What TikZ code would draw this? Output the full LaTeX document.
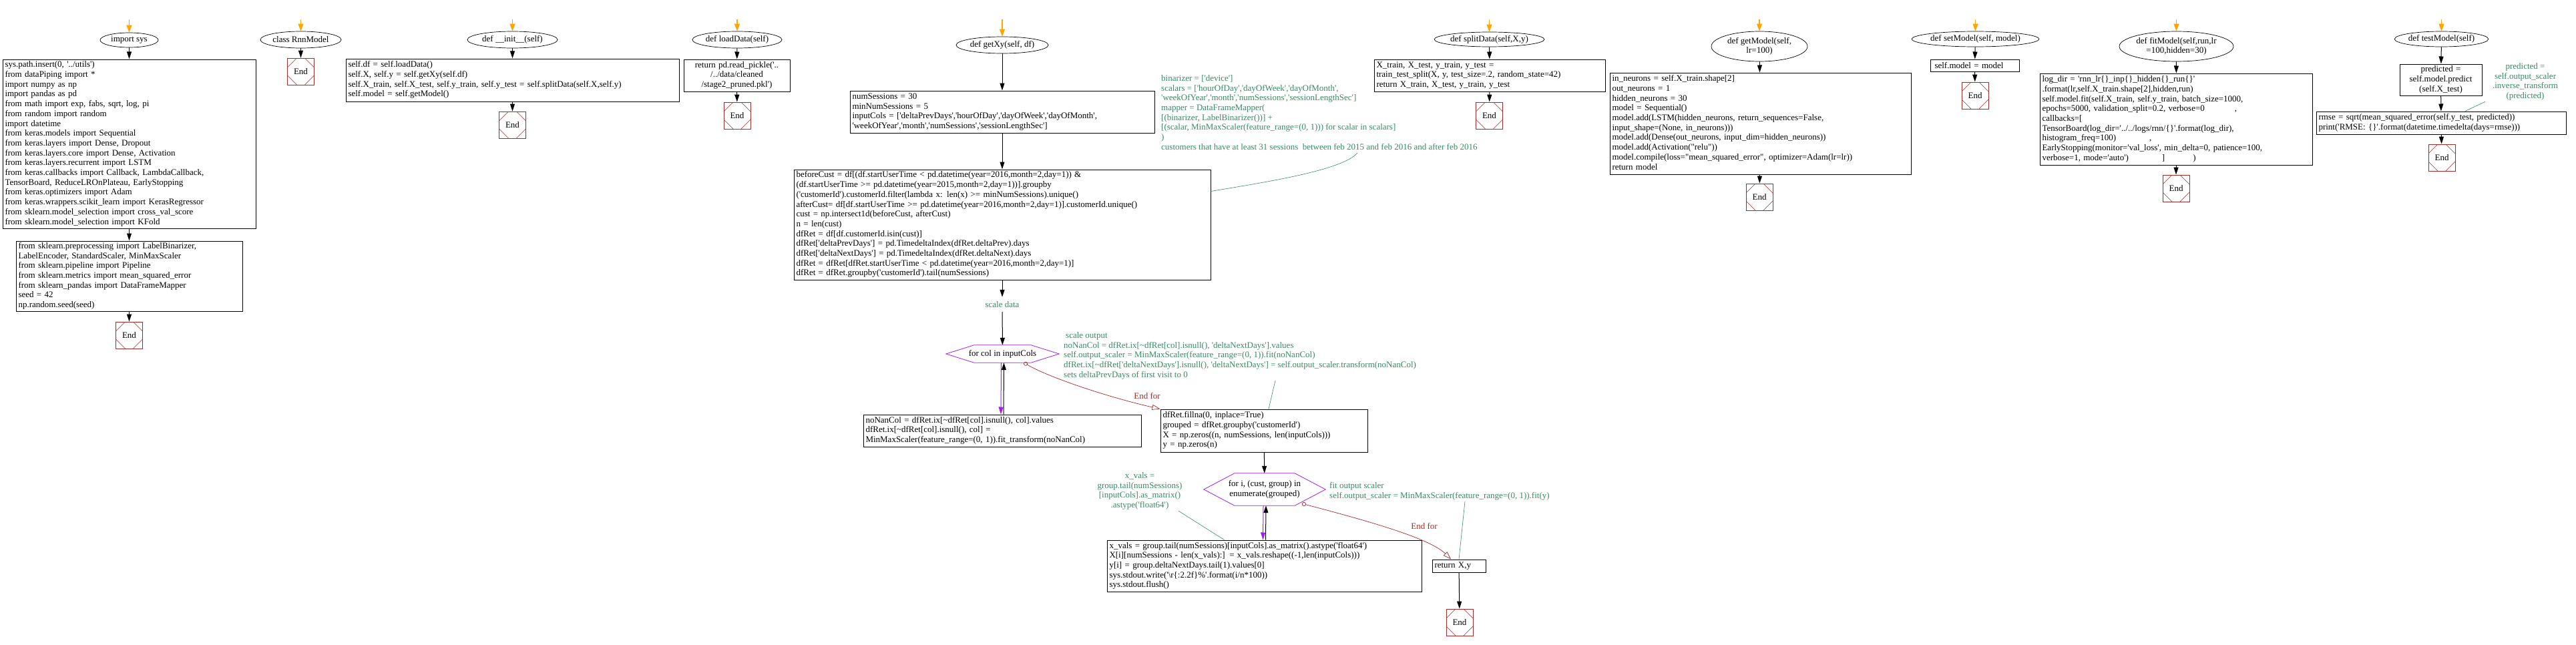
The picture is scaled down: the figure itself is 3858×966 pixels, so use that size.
\documentclass[tikz,border=0pt]{standalone}
\usepackage{fontspec}
\setmainfont{Liberation Serif}[Ligatures=TeXOff]
\usetikzlibrary{arrows.meta,shapes.geometric}
\definecolor{gcol}{RGB}{56,138,100}
\definecolor{brn}{RGB}{165,42,42}
\definecolor{prp}{RGB}{160,32,240}
\definecolor{orng}{RGB}{255,165,0}
\newcommand{\codeL}[1]{\begin{tabular}{@{}l@{}}#1\end{tabular}}
\newcommand{\codeC}[1]{\begin{tabular}{@{}c@{}}#1\end{tabular}}
\tikzset{
  ell/.style={draw, ellipse, inner sep=0pt, line width=0.7pt},
  box/.style={draw, rectangle, inner xsep=3.5pt, inner ysep=0pt, line width=1pt, align=left},
  cbox/.style={draw, rectangle, inner xsep=3.5pt, inner ysep=0pt, line width=1pt, align=center},
  endbox/.style={draw=brn, line width=0.8pt, minimum width=40pt, minimum height=40pt, inner sep=0pt,
    path picture={\draw[brn, line width=0.5pt]
      ([xshift=14pt]path picture bounding box.north west) -- ([yshift=-14pt]path picture bounding box.north west)
      ([xshift=-14pt]path picture bounding box.north east) -- ([yshift=-14pt]path picture bounding box.north east)
      ([xshift=14pt]path picture bounding box.south west) -- ([yshift=14pt]path picture bounding box.south west)
      ([xshift=-14pt]path picture bounding box.south east) -- ([yshift=14pt]path picture bounding box.south east);}},
  flow/.style={line width=1pt, -{Triangle[length=11pt,width=7pt]}},
  startarrow/.style={draw=orng, line width=1.2pt, -{Triangle[length=11pt,width=8pt]}},
  loopd/.style={draw=prp, line width=1pt, -{Triangle[length=11pt,width=7pt]}},
  endfor/.style={draw=brn, line width=0.7pt, {Circle[open,length=6pt]}-{Triangle[open,length=12pt,width=8pt]}},
  note/.style={text=gcol, inner sep=0pt},
  noteline/.style={draw=gcol, line width=0.6pt},
  hexline/.style={draw=prp, line width=0.8pt},
  lbl/.style={text=brn, inner sep=0pt},
}
\begin{document}
\begin{tikzpicture}[x=1pt, y=-1pt, font=\fontsize{13}{14.7}\selectfont]
\fill[white] (0,0) rectangle (3858,966);
\useasboundingbox (0,0) rectangle (3858,966);

% ---------- import sys ----------
\coordinate (s1) at (193.5,29);
\node[ell, minimum width=87pt, minimum height=22pt] (e1) at (193.5,60) {import sys};
\node[box, text width=372pt, minimum height=253pt] (a1) at (193.5,215.5) {\codeL{sys.path.insert(0, '../utils')\\
from dataPiping import *\\
import numpy as np\\
import pandas as pd\\
from math import exp, fabs, sqrt, log, pi\\
from random import random\\
import datetime\\
from keras.models import Sequential\\
from keras.layers import Dense, Dropout\\
from keras.layers.core import Dense, Activation\\
from keras.layers.recurrent import LSTM\\
from keras.callbacks import Callback, LambdaCallback,\\
TensorBoard, ReduceLROnPlateau, EarlyStopping\\
from keras.optimizers import Adam\\
from keras.wrappers.scikit\_learn import KerasRegressor\\
from sklearn.model\_selection import cross\_val\_score\\
from sklearn.model\_selection import KFold}};
\node[box, text width=332pt, minimum height=105pt] (a2) at (193.5,413.5) {\codeL{from sklearn.preprocessing import LabelBinarizer,\\
LabelEncoder, StandardScaler, MinMaxScaler\\
from sklearn.pipeline import Pipeline\\
from sklearn.metrics import mean\_squared\_error\\
from sklearn\_pandas import DataFrameMapper\\
seed = 42\\
np.random.seed(seed)}};
\node[endbox] (a3) at (193.5,502) {End};
\draw[startarrow] (s1) -- (e1);
\draw[flow] (e1) -- (a1);
\draw[flow] (a1) -- (a2);
\draw[flow] (a2) -- (a3);

% ---------- class RnnModel ----------
\coordinate (s2) at (450.5,29);
\node[ell, minimum width=121pt, minimum height=25pt] (e2) at (450.5,59.5) {class RnnModel};
\node[endbox] (b3) at (450.5,107) {End};
\draw[startarrow] (s2) -- (e2);
\draw[flow] (e2) -- (b3);

% ---------- __init__ ----------
\coordinate (s3) at (767.5,29);
\node[ell, minimum width=135pt, minimum height=25pt] (e3) at (767.5,59.5) {def \_\_init\_\_(self)};
\node[box, text width=492pt, minimum height=64pt] (c1) at (767.5,120) {\codeL{self.df = self.loadData()\\
self.X, self.y = self.getXy(self.df)\\
self.X\_train, self.X\_test, self.y\_train, self.y\_test = self.splitData(self.X,self.y)\\
self.model = self.getModel()}};
\node[endbox] (c2) at (767.5,187) {End};
\draw[startarrow] (s3) -- (e3);
\draw[flow] (e3) -- (c1);
\draw[flow] (c1) -- (c2);

% ---------- loadData ----------
\coordinate (s4) at (1104,29);
\node[ell, minimum width=134pt, minimum height=25pt] (e4) at (1104,59.5) {def loadData(self)};
\node[cbox, text width=152pt, minimum height=48pt] (d1) at (1103.5,113) {\codeC{return pd.read\_pickle('..\\
/../data/cleaned\\
/stage2\_pruned.pkl')}};
\node[endbox] (d2) at (1104,173) {End};
\draw[startarrow] (s4) -- (e4);
\draw[flow] (e4) -- (d1);
\draw[flow] (d1) -- (d2);

% ---------- getXy ----------
\coordinate (s5) at (1501,29);
\node[ell, minimum width=138pt, minimum height=25pt] (e5) at (1501,67.5) {def getXy(self, df)};
\node[box, text width=449pt, minimum height=63pt] (x1) at (1501,167.5) {\codeL{numSessions = 30\\
minNumSessions = 5\\
inputCols = ['deltaPrevDays','hourOfDay','dayOfWeek','dayOfMonth',\\
'weekOfYear','month','numSessions','sessionLengthSec']}};
\node[note, anchor=north west] (xc) at (1739,111) {\codeL{binarizer = ['device']\\
scalars = ['hourOfDay','dayOfWeek','dayOfMonth',\\
'weekOfYear','month','numSessions','sessionLengthSec']\\
mapper = DataFrameMapper(\\
{[}(binarizer, LabelBinarizer())] +\\
{[}(scalar, MinMaxScaler(feature\_range=(0, 1))) for scalar in scalars]\\
)\\
customers that have at least 31 sessions\ \ between feb 2015 and feb 2016 and after feb 2016}};
\node[box, text width=617pt, minimum height=165pt] (x2) at (1501,336.5) {\codeL{beforeCust = df[(df.startUserTime < pd.datetime(year=2016,month=2,day=1)) \&\\
(df.startUserTime >= pd.datetime(year=2015,month=2,day=1))].groupby\\
('customerId').customerId.filter(lambda x: len(x) >= minNumSessions).unique()\\
afterCust= df[df.startUserTime >= pd.datetime(year=2016,month=2,day=1)].customerId.unique()\\
cust = np.intersect1d(beforeCust, afterCust)\\
n = len(cust)\\
dfRet = df[df.customerId.isin(cust)]\\
dfRet['deltaPrevDays'] = pd.TimedeltaIndex(dfRet.deltaPrev).days\\
dfRet['deltaNextDays'] = pd.TimedeltaIndex(dfRet.deltaNext).days\\
dfRet = dfRet[dfRet.startUserTime < pd.datetime(year=2016,month=2,day=1)]\\
dfRet = dfRet.groupby('customerId').tail(numSessions)}};
\node[note, minimum height=22pt] (sd) at (1501,456) {scale data};
\node[inner sep=0pt, minimum width=169pt, minimum height=26pt] (hx1) at (1501.5,530) {for col in inputCols};
\draw[hexline] (hx1.west) -- ([xshift=42pt]hx1.north west) -- ([xshift=-42pt]hx1.north east) -- (hx1.east) -- ([xshift=-42pt]hx1.south east) -- ([xshift=42pt]hx1.south west) -- cycle;
\node[box, text width=409pt, minimum height=48pt] (l1) at (1501,645) {\codeL{noNanCol = dfRet.ix[\textasciitilde dfRet[col].isnull(), col].values\\
dfRet.ix[\textasciitilde dfRet[col].isnull(), col] =\\
MinMaxScaler(feature\_range=(0, 1)).fit\_transform(noNanCol)}};
\node[note, anchor=north west] (so) at (1593,496) {\codeL{\hspace{3pt}scale output\\
noNanCol = dfRet.ix[\textasciitilde dfRet[col].isnull(), 'deltaNextDays'].values\\
self.output\_scaler = MinMaxScaler(feature\_range=(0, 1)).fit(noNanCol)\\
dfRet.ix[\textasciitilde dfRet['deltaNextDays'].isnull(), 'deltaNextDays'] = self.output\_scaler.transform(noNanCol)\\
sets deltaPrevDays of first visit to 0}};
\node[box, text width=303pt, minimum height=64pt] (x3) at (1893,645) {\codeL{dfRet.fillna(0, inplace=True)\\
grouped = dfRet.groupby('customerId')\\
X = np.zeros((n, numSessions, len(inputCols)))\\
y = np.zeros(n)}};
\node[lbl] (ef1) at (1718,593) {End for};
\node[inner sep=0pt, minimum width=182pt, minimum height=48pt] (hx2) at (1894,733) {\codeC{for i, (cust, group) in\\ enumerate(grouped)}};
\draw[hexline] (hx2.west) -- ([xshift=46pt]hx2.north west) -- ([xshift=-46pt]hx2.north east) -- (hx2.east) -- ([xshift=-46pt]hx2.south east) -- ([xshift=46pt]hx2.south west) -- cycle;
\node[note, anchor=north] (xv) at (1707,706) {\codeC{x\_vals =\\
group.tail(numSessions)\\
{[}inputCols].as\_matrix()\\
.astype('float64')}};
\node[note, anchor=north west] (fo) at (1991,721) {\codeL{fit output scaler\\
self.output\_scaler = MinMaxScaler(feature\_range=(0, 1)).fit(y)}};
\node[box, text width=464pt, minimum height=77pt] (l2) at (1893.5,847.5) {\codeL{x\_vals = group.tail(numSessions)[inputCols].as\_matrix().astype('float64')\\
X[i][numSessions - len(x\_vals):] = x\_vals.reshape((-1,len(inputCols)))\\
y[i] = group.deltaNextDays.tail(1).values[0]\\
sys.stdout.write('\textbackslash r\{:2.2f\}\%'.format(i/n*100))\\
sys.stdout.flush()}};
\node[box, text width=73pt, minimum height=19pt] (rt) at (2185,847.5) {return X,y};
\node[lbl] (ef2) at (2133,788) {End for};
\node[endbox] (x9) at (2186,932) {End};

\draw[startarrow] (s5) -- (e5);
\draw[flow] (e5) -- (x1);
\draw[flow] (x1) -- (x2);
\draw[noteline] ([xshift=294pt]xc.south west) .. controls (2010,255) and (1900,272) .. ([yshift=50pt]x2.east);
\draw[flow] (x2) -- (sd);
\draw[flow] (sd) -- (hx1);
\draw[loopd] ([xshift=-2pt]hx1.south) -- ([xshift=-2pt]l1.north);
\draw[flow] ([xshift=2pt]l1.north) -- ([xshift=2pt]hx1.south);
\draw[endfor] ([xshift=32pt]hx1.south) .. controls (1570,565) and (1660,595) .. (x3.north west);
\draw[noteline] ([xshift=317pt]so.south west) -- ([xshift=7pt]x3.north);
\draw[flow] (x3) -- (hx2);
\draw[loopd] ([xshift=-2pt]hx2.south) -- ([xshift=-2pt]l2.north);
\draw[flow] ([xshift=2pt]l2.north) -- ([xshift=2pt]hx2.south);
\draw[noteline] ([xshift=58pt]xv.south) -- ([xshift=-60pt]l2.north);
\draw[endfor] ([xshift=56pt,yshift=3pt]hx2.south) .. controls (2040,778) and (2140,805) .. ([xshift=-12pt]rt.north);
\draw[noteline] ([xshift=203pt]fo.south west) -- (rt.north);
\draw[flow] (rt) -- (x9);

% ---------- splitData ----------
\coordinate (s6) at (2230.5,29);
\node[ell, minimum width=159pt, minimum height=22pt] (e6) at (2230.5,59) {def splitData(self,X,y)};
\node[box, text width=339pt, minimum height=48pt] (f1) at (2231,113) {\codeL{X\_train, X\_test, y\_train, y\_test =\\
train\_test\_split(X, y, test\_size=.2, random\_state=42)\\
return X\_train, X\_test, y\_train, y\_test}};
\node[endbox] (f2) at (2230.5,173) {End};
\draw[startarrow] (s6) -- (e6);
\draw[flow] (e6) -- (f1);
\draw[flow] (f1) -- (f2);

% ---------- getModel ----------
\coordinate (s7) at (2635,29);
\node[ell, minimum width=144pt, minimum height=45pt] (e7) at (2635,69.5) {\codeC{def getModel(self,\\ lr=100)}};
\node[box, text width=444pt, minimum height=152pt] (g1) at (2636.5,185) {\codeL{in\_neurons = self.X\_train.shape[2]\\
out\_neurons = 1\\
hidden\_neurons = 30\\
model = Sequential()\\
model.add(LSTM(hidden\_neurons, return\_sequences=False,\\
input\_shape=(None, in\_neurons)))\\
model.add(Dense(out\_neurons, input\_dim=hidden\_neurons))\\
model.add(Activation("relu"))\\
model.compile(loss="mean\_squared\_error", optimizer=Adam(lr=lr))\\
return model}};
\node[endbox] (g2) at (2635,295) {End};
\draw[startarrow] (s7) -- (e7);
\draw[flow] (e7) -- (g1);
\draw[flow] (g1) -- (g2);

% ---------- setModel ----------
\coordinate (s8) at (2958.5,29);
\node[ell, minimum width=179pt, minimum height=23pt] (e8) at (2958.5,58.5) {def setModel(self, model)};
\node[box, text width=126pt, minimum height=18pt] (m1) at (2957.5,98) {\hspace{3pt}self.model = model};
\node[endbox] (m2) at (2958,143) {End};
\draw[startarrow] (s8) -- (e8);
\draw[flow] (e8) -- (m1);
\draw[flow] (m1) -- (m2);

% ---------- fitModel ----------
\coordinate (s9) at (3259.5,29);
\node[ell, minimum width=171pt, minimum height=45pt] (e9) at (3259.5,69.5) {\codeC{def fitModel(self,run,lr\\ =100,hidden=30)}};
\node[box, text width=401pt, minimum height=137pt] (n1) at (3259,178.5) {\codeL{log\_dir = 'rnn\_lr\{\}\_inp\{\}\_hidden\{\}\_run\{\}'\\
.format(lr,self.X\_train.shape[2],hidden,run)\\
self.model.fit(self.X\_train, self.y\_train, batch\_size=1000,\\
epochs=5000, validation\_split=0.2, verbose=0\hspace{45pt},\\
callbacks=[\\
TensorBoard(log\_dir='../../logs/rnn/\{\}'.format(log\_dir),\\
histogram\_freq=100)\hspace{50pt},\\
EarlyStopping(monitor='val\_loss', min\_delta=0, patience=100,\\
verbose=1, mode='auto')\hspace{50pt}]\hspace{42pt})}};
\node[endbox] (n2) at (3259,282) {End};
\draw[startarrow] (s9) -- (e9);
\draw[flow] (e9) -- (n1);
\draw[flow] (n1) -- (n2);

% ---------- testModel ----------
\coordinate (s10) at (3656.5,29);
\node[ell, minimum width=139pt, minimum height=23pt] (e10) at (3656.5,58.5) {def testModel(self)};
\node[cbox, text width=116pt, minimum height=47pt] (t1) at (3655.5,119.5) {\codeC{predicted =\\
self.model.predict\\
(self.X\_test)}};
\node[note, anchor=north] (tc) at (3782,93) {\codeC{predicted =\\
self.output\_scaler\\
.inverse\_transform\\
(predicted)}};
\node[box, text width=367pt, minimum height=34pt] (t2) at (3656,184) {\codeL{rmse = sqrt(mean\_squared\_error(self.y\_test, predicted))\\
print('RMSE: \{\}'.format(datetime.timedelta(days=rmse)))}};
\node[endbox] (t3) at (3657,236) {End};
\draw[startarrow] (s10) -- (e10);
\draw[flow] (e10) -- (t1);
\draw[flow] (t1) -- (t2);
\draw[noteline] ([xshift=-60pt]tc.south) -- ([xshift=36pt]t2.north);
\draw[flow] (t2) -- (t3);
\end{tikzpicture}
\end{document}
